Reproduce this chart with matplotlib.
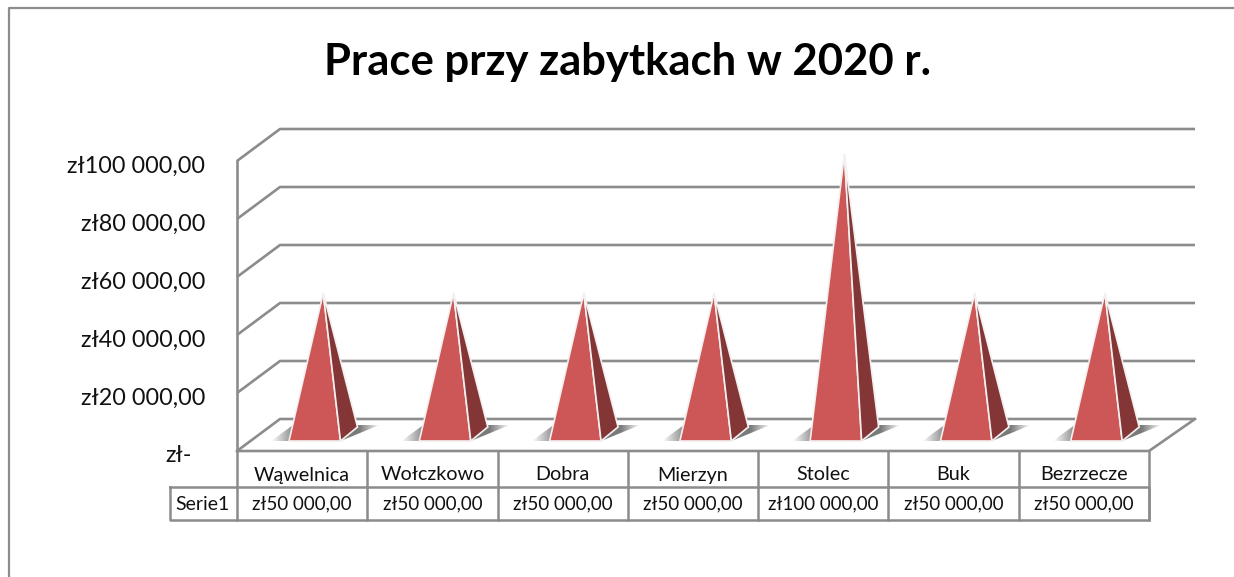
import numpy as np
import matplotlib
matplotlib.use('Agg')
import matplotlib.pyplot as plt
from matplotlib.patches import Polygon

plt.rcParams['font.family'] = ['Lato', 'DejaVu Sans']

title = 'Prace przy zabytkach w 2020 r.'
places = ['Wąwelnica', 'Wołczkowo', 'Dobra', 'Mierzyn', 'Stolec', 'Buk', 'Bezrzecze']
values = [50000, 50000, 50000, 50000, 100000, 50000, 50000]
ticks = [0, 20000, 40000, 60000, 80000, 100000]
tick_labels = ['zł-', 'zł20 000,00', 'zł40 000,00', 'zł60 000,00', 'zł80 000,00', 'zł100 000,00']
value_labels = ['zł50 000,00', 'zł50 000,00', 'zł50 000,00', 'zł50 000,00', 'zł100 000,00', 'zł50 000,00', 'zł50 000,00']

GRID = '#8c8c8c'
FRONT = '#cd5756'
SIDE = '#843636'

fig = plt.figure(figsize=(12.34, 5.77), dpi=100)
ax = fig.add_axes([0, 0, 1, 1])
ax.set_xlim(0, 1234)
ax.set_ylim(577, 0)
ax.axis('off')

# pixel layout of the fake 3d box
x0, x1 = 237, 1149
y0 = 451
dx, dy = 43, -32
per_unit = 290 / 100000
cat_w = (x1 - x0) / len(places)


def vy(v):
    return y0 - v * per_unit


# chart frame, right side is cut off in the original
ax.plot([9, 9, 1234], [577, 8, 8], color='#8c8c8c', lw=1.6)

# walls and gridlines
for t in ticks:
    ax.plot([x0, x0 + dx, x1 + dx + 3], [vy(t), vy(t) + dy, vy(t) + dy], color=GRID, lw=1.9, solid_capstyle='butt', zorder=1)
ax.plot([x0, x0], [vy(0), vy(ticks[-1])], color=GRID, lw=1.9, zorder=1)
ax.plot([x0, x1, x1 + dx + 3], [y0, y0, y0 + dy], color=GRID, lw=1.9, zorder=1)

for t, lab in zip(ticks, tick_labels):
    ax.text(205 if t else 192, vy(t) + (5 if t else 5), lab, ha='right', va='center', fontsize=16.8, color='#111111')

for i, v in enumerate(values):
    left = x0 + i * cat_w + 52
    bw, bd, bh = 51.5, 17, 14
    base = y0 - 10
    ax_x = left + (bw + bd) / 2
    apex = base - 9 - v * 0.00278

    # soft shadow on the floor, dark under the pyramid and fading out sideways
    pts = [(left - 18, base), (left + bw, base), (left + bw + bd + 22, base - bh - 2), (left + 4, base - bh - 2)]
    xs = [p[0] for p in pts]
    ys = [p[1] for p in pts]
    xx = np.linspace(min(xs), max(xs), 128)
    g = np.zeros((2, 128, 4))
    g[:, :, :3] = 0.38
    g[:, :, 3] = np.interp(xx, [left - 18, left + 4, left + bw + bd + 2, left + bw + bd + 22], [0, .75, .85, 0])
    im = ax.imshow(g, extent=[min(xs), max(xs), max(ys), min(ys)], aspect='auto', zorder=2, interpolation='bilinear')
    poly = Polygon(pts, closed=True, transform=ax.transData, fc='none', ec='none')
    ax.add_patch(poly)
    im.set_clip_path(poly)

    ax.add_patch(Polygon([(left, base), (left + bw, base), (ax_x, apex)], closed=True, fc=FRONT, ec='#f4f0f0', lw=1.2, zorder=3))
    ax.add_patch(Polygon([(left + bw, base), (left + bw + bd, base - bh), (ax_x, apex)], closed=True, fc=SIDE, ec='#f4f0f0', lw=1.2, zorder=3))
ax.set_xlim(0, 1234)
ax.set_ylim(577, 0)

# data table
t0, t1, t2 = y0, 487, 520
for i in range(len(places) + 1):
    ax.plot([x0 + i * cat_w] * 2, [t0, t2], color=GRID, lw=1.8, zorder=1)
ax.plot([170, x1, x1, 170, 170], [t1, t1, t2, t2, t1], color=GRID, lw=1.8, zorder=1)
ax.text(202, 504, 'Serie1', ha='center', va='center', fontsize=14, color='#111111')
for i in range(len(places)):
    xc = x0 + (i + .5) * cat_w
    ax.text(xc, 475, places[i], ha='center', va='center', fontsize=14.2, color='#111111')
    ax.text(xc, 504, value_labels[i], ha='center', va='center', fontsize=13.5, color='#111111')

ax.text(627.5, 62, title, ha='center', va='center', fontsize=31.4, fontweight='bold', color='black')

fig.savefig('out.png', dpi=100)
